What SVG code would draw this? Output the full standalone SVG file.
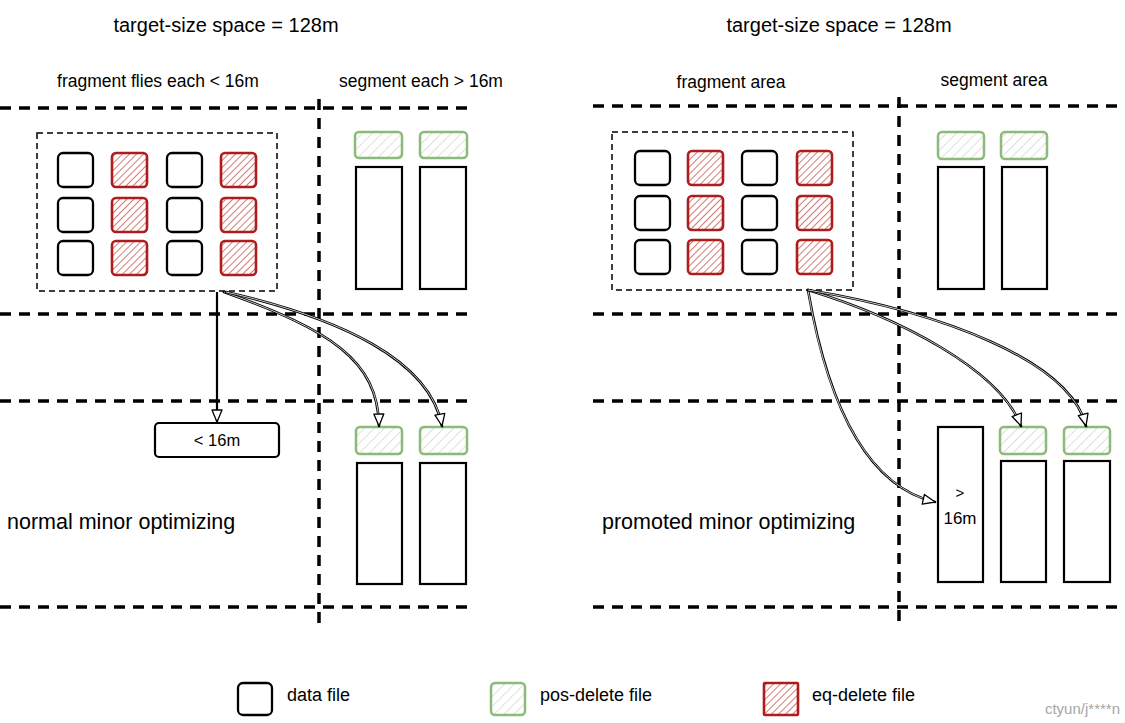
<svg xmlns="http://www.w3.org/2000/svg" width="1125" height="723" viewBox="0 0 1125 723">
  <defs>
    <pattern id="hatchRed" patternUnits="userSpaceOnUse" width="5" height="5" patternTransform="rotate(45)">
      <line x1="0" y1="0" x2="0" y2="5" stroke="#b8322a" stroke-width="1.3"/>
    </pattern>
    <pattern id="hatchGray" patternUnits="userSpaceOnUse" width="7" height="7" patternTransform="rotate(45)">
      <line x1="0" y1="0" x2="0" y2="7" stroke="#bdbdbd" stroke-width="1"/>
    </pattern>
    <marker id="openArrow" markerUnits="userSpaceOnUse" markerWidth="16" markerHeight="14" refX="13" refY="6" orient="auto">
      <path d="M1,1 L13,6 L1,11 Z" fill="#fff" stroke="#000" stroke-width="1.3" stroke-linejoin="round"/>
    </marker>
    <style>
      .sep { stroke: #000; stroke-width: 3.5; stroke-dasharray: 11 8; fill: none; }
      .group-box { fill: none; stroke: #000; stroke-width: 1.5; stroke-dasharray: 6 4; }
      .data { fill: #fff; stroke: #000; stroke-width: 2.3; }
      .eq { fill: url(#hatchRed); stroke: #b01c1c; stroke-width: 2.6; }
      .pos { fill: url(#hatchGray); stroke: #8cba78; stroke-width: 2.5; }
      .seg { fill: #fff; stroke: #000; stroke-width: 2.2; }
      .hand { font-family: "Liberation Sans", "DejaVu Sans", sans-serif; fill: #000; }
      .legend { font-family: "Liberation Sans", Arial, sans-serif; font-size: 18px; fill: #000; }
      .wire-outer { fill: none; stroke: #000; stroke-width: 2.6; stroke-linecap: round; }
      .wire-inner { fill: none; stroke: #fff; stroke-width: 0.8; }
      .wire-solid { fill: none; stroke: #000; stroke-width: 2.2; marker-end: url(#openArrow); }
      .wire-head { fill: none; stroke: none; marker-end: url(#openArrow); }
    </style>
  </defs>
  <rect width="1125" height="723" fill="#fff"/>

  <!-- separators -->
  <g id="separators">
    <line class="sep" x1="0" y1="108" x2="473" y2="108"/>
    <line class="sep" x1="0" y1="314" x2="473" y2="314"/>
    <line class="sep" x1="0" y1="401" x2="473" y2="401"/>
    <line class="sep" x1="0" y1="607" x2="473" y2="607"/>
    <line class="sep" x1="319" y1="99" x2="319" y2="625"/>
    <line class="sep" x1="593" y1="106" x2="1125" y2="106"/>
    <line class="sep" x1="593" y1="314" x2="1125" y2="314"/>
    <line class="sep" x1="593" y1="401" x2="1125" y2="401"/>
    <line class="sep" x1="593" y1="607" x2="1125" y2="607"/>
    <line class="sep" x1="899" y1="97" x2="899" y2="625"/>
  </g>

  <!-- titles -->
  <g id="titles" class="hand">
    <text x="226" y="32" font-size="20" text-anchor="middle">target-size space = 128m</text>
    <text x="158" y="87" font-size="17.5" text-anchor="middle">fragment flies each &lt; 16m</text>
    <text x="421" y="87" font-size="17.5" text-anchor="middle">segment each &gt; 16m</text>
    <text x="839" y="32" font-size="20" text-anchor="middle">target-size space = 128m</text>
    <text x="731" y="88" font-size="17.5" text-anchor="middle">fragment area</text>
    <text x="994" y="86" font-size="17.5" text-anchor="middle">segment area</text>
    <text x="7" y="529" font-size="21.5">normal minor optimizing</text>
    <text x="602" y="529" font-size="21.5">promoted minor optimizing</text>
  </g>

  <!-- left fragment group -->
  <g id="left-fragments">
    <rect class="group-box" x="37" y="133" width="240" height="158"/>
    <rect class="data" x="58" y="153" width="35" height="34" rx="5"/>
    <rect class="eq" x="112" y="153" width="35" height="34" rx="4"/>
    <rect class="data" x="167" y="153" width="35" height="34" rx="5"/>
    <rect class="eq" x="221" y="153" width="35" height="34" rx="4"/>
    <rect class="data" x="58" y="198" width="35" height="34" rx="5"/>
    <rect class="eq" x="112" y="198" width="35" height="34" rx="4"/>
    <rect class="data" x="167" y="198" width="35" height="34" rx="5"/>
    <rect class="eq" x="221" y="198" width="35" height="34" rx="4"/>
    <rect class="data" x="58" y="241" width="35" height="34" rx="5"/>
    <rect class="eq" x="112" y="241" width="35" height="34" rx="4"/>
    <rect class="data" x="167" y="241" width="35" height="34" rx="5"/>
    <rect class="eq" x="221" y="241" width="35" height="34" rx="4"/>
  </g>

  <g id="left-segments-top">
    <rect class="pos" x="355" y="132" width="47" height="26" rx="4"/>
    <rect class="pos" x="420" y="132" width="47" height="26" rx="4"/>
    <rect class="seg" x="356" y="167" width="46" height="122"/>
    <rect class="seg" x="420" y="167" width="46" height="122"/>
  </g>

  <g id="left-small-output">
    <rect class="seg" x="155" y="423" width="124" height="34" rx="4"/>
    <text class="hand" x="217" y="446" font-size="16.5" text-anchor="middle">&lt; 16m</text>
  </g>

  <g id="left-segments-bottom">
    <rect class="pos" x="356" y="427" width="46" height="27" rx="4"/>
    <rect class="pos" x="420" y="427" width="47" height="27" rx="4"/>
    <rect class="seg" x="357" y="463" width="45" height="121"/>
    <rect class="seg" x="420" y="463" width="46" height="121"/>
  </g>

  <!-- right fragment group -->
  <g id="right-fragments">
    <rect class="group-box" x="612" y="132" width="241" height="158"/>
    <rect class="data" x="635" y="151" width="35" height="34" rx="5"/>
    <rect class="eq" x="688" y="151" width="35" height="34" rx="4"/>
    <rect class="data" x="742" y="151" width="35" height="34" rx="5"/>
    <rect class="eq" x="797" y="151" width="35" height="34" rx="4"/>
    <rect class="data" x="635" y="196" width="35" height="34" rx="5"/>
    <rect class="eq" x="688" y="196" width="35" height="34" rx="4"/>
    <rect class="data" x="742" y="196" width="35" height="34" rx="5"/>
    <rect class="eq" x="797" y="196" width="35" height="34" rx="4"/>
    <rect class="data" x="635" y="240" width="35" height="34" rx="5"/>
    <rect class="eq" x="688" y="240" width="35" height="34" rx="4"/>
    <rect class="data" x="742" y="240" width="35" height="34" rx="5"/>
    <rect class="eq" x="797" y="240" width="35" height="34" rx="4"/>
  </g>

  <g id="right-segments-top">
    <rect class="pos" x="938" y="132" width="46" height="27" rx="4"/>
    <rect class="pos" x="1001" y="132" width="46" height="27" rx="4"/>
    <rect class="seg" x="938" y="167" width="46" height="122"/>
    <rect class="seg" x="1002" y="167" width="45" height="122"/>
  </g>

  <g id="right-promoted-output">
    <rect class="seg" x="938" y="427" width="45" height="155"/>
    <text class="hand" x="960" y="498" font-size="15" text-anchor="middle">&gt;</text>
    <text class="hand" x="960" y="524" font-size="17" text-anchor="middle">16m</text>
  </g>

  <g id="right-segments-bottom">
    <rect class="pos" x="1000" y="427" width="46" height="27" rx="4"/>
    <rect class="pos" x="1064" y="427" width="46" height="27" rx="4"/>
    <rect class="seg" x="1001" y="461" width="45" height="121"/>
    <rect class="seg" x="1064" y="461" width="46" height="121"/>
  </g>

  <!-- connectors -->
  <g id="connectors">
    <path class="wire-solid" d="M217,292 L217,422"/>

    <path class="wire-outer" d="M224,292 C330,330 378,360 379,426"/>
    <path class="wire-inner" d="M224,292 C330,330 378,360 379,426"/>
    <path class="wire-head" d="M224,292 C330,330 378,360 379,426"/>

    <path class="wire-outer" d="M226,292 C340,318 430,360 442,426"/>
    <path class="wire-inner" d="M226,292 C340,318 430,360 442,426"/>
    <path class="wire-head" d="M226,292 C340,318 430,360 442,426"/>

    <path class="wire-outer" d="M808,290 C815,330 840,480 935,502"/>
    <path class="wire-inner" d="M808,290 C815,330 840,480 935,502"/>
    <path class="wire-head" d="M808,290 C815,330 840,480 935,502"/>

    <path class="wire-outer" d="M808,290 C900,318 1000,370 1021,426"/>
    <path class="wire-inner" d="M808,290 C900,318 1000,370 1021,426"/>
    <path class="wire-head" d="M808,290 C900,318 1000,370 1021,426"/>

    <path class="wire-outer" d="M808,290 C940,312 1070,360 1086,426"/>
    <path class="wire-inner" d="M808,290 C940,312 1070,360 1086,426"/>
    <path class="wire-head" d="M808,290 C940,312 1070,360 1086,426"/>
  </g>

  <!-- legend -->
  <g id="legend-data">
    <rect class="data" x="238" y="683" width="34" height="32" rx="5"/>
    <text class="legend" x="287" y="701">data file</text>
  </g>
  <g id="legend-pos">
    <rect class="pos" x="491" y="683" width="34" height="32" rx="4"/>
    <text class="legend" x="540" y="701">pos-delete file</text>
  </g>
  <g id="legend-eq">
    <rect class="eq" x="764" y="683" width="34" height="32" rx="1"/>
    <text class="legend" x="812" y="701">eq-delete file</text>
  </g>

  <text x="1120" y="714" font-family="Liberation Sans, Arial, sans-serif" font-size="15" fill="#a6a6a6" text-anchor="end">ctyun/j****n</text>
</svg>
